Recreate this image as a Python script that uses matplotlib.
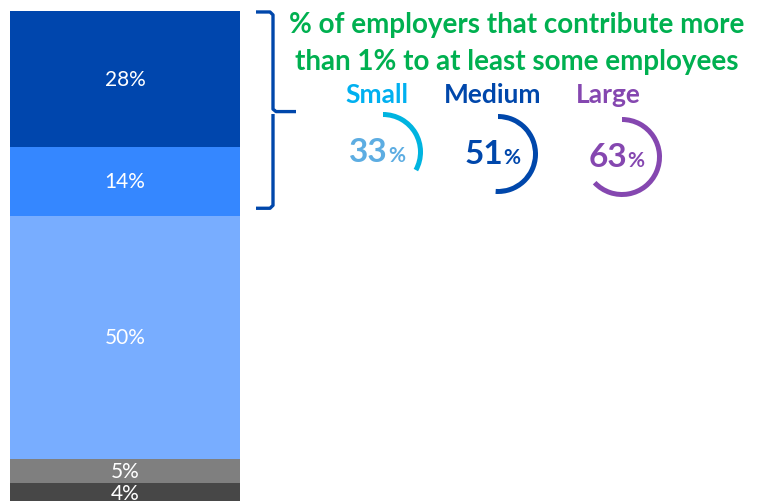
import matplotlib

matplotlib.use('Agg')
import matplotlib.pyplot as plt
import matplotlib.transforms as mtransforms
from matplotlib.patches import Wedge
import numpy as np

plt.rcParams['font.family'] = ['Lato', 'DejaVu Sans']

# stacked bar data (top to bottom)
segments = [28, 14, 50, 5, 4]
seg_labels = ['28%', '14%', '50%', '5%', '4%']
seg_colors = ['#0046AD', '#3587FF', '#78ADFF', '#7F7F7F', '#474747']

# gauges
sizes = ['Small', 'Medium', 'Large']
shares = [33, 51, 63]
label_colors = ['#00B0F0', '#0047AB', '#8547B0']
arc_colors = ['#00B4E0', '#0047AB', '#8547B0']
num_colors = ['#5DADE2', '#0047AB', '#8547B0']

title_lines = ['% of employers that contribute more',
               'than 1% to at least some employees']

W, H = 765, 502


def px_rect(x0, y0, x1, y1):
    return [x0 / W, 1 - y1 / H, (x1 - x0) / W, (y1 - y0) / H]


fig = plt.figure(figsize=(W / 100, H / 100), dpi=100)

# stacked bar
ax = fig.add_axes(px_rect(10, 12, 240, 502))
bottoms = np.cumsum([0] + segments[:-1])
ax.bar(0, segments, bottom=bottoms, width=1, color=seg_colors, linewidth=0)
for b, s, lab in zip(bottoms, segments, seg_labels):
    ax.text(0, b + s / 2, lab, ha='center', va='center', color='white',
            fontsize=15, clip_on=False)
ax.set_xlim(-0.5, 0.5)
ax.set_ylim(100.6, 0)
ax.axis('off')

# overlay in pixel coords
ov = fig.add_axes([0, 0, 1, 1])
ov.set_xlim(0, W)
ov.set_ylim(H, 0)
ov.axis('off')

# bracket over the first two segments
tr = mtransforms.blended_transform_factory(ov.transData, ax.transData)
y0 = 0.2
y1 = segments[0] + segments[1] - 1.5
ym = (y0 + y1) / 2 + 0.3
bx = [256, 270, 273, 273, 276, 296]
by = [y0, y0, y0 + 0.6, ym - 0.5, ym, ym]
ov.plot(bx, by, color='#0047AB', lw=2.4, transform=tr,
        solid_joinstyle='round', solid_capstyle='butt')
ov.plot([273, 273, 270, 256], [ym + 0.5, y1 - 0.6, y1, y1], color='#0047AB',
        lw=2.4, transform=tr, solid_joinstyle='round', solid_capstyle='butt')

# title
ov.text(517, 25, title_lines[0], ha='center', va='center', color='#00B050',
        fontsize=20, fontweight='bold')
ov.text(517, 62, title_lines[1], ha='center', va='center', color='#00B050',
        fontsize=20, fontweight='bold')

# gauges
centers = [(383, 153), (498, 155), (622, 158)]
label_x = [377, 493, 608]
for (cx, cy), lx, name, v, lc, ac, nc in zip(centers, label_x, sizes, shares,
                                               label_colors, arc_colors, num_colors):
    ov.text(lx, 95, name, ha='center', va='center', color=lc,
            fontsize=19, fontweight='bold')
    ov.add_patch(Wedge((cx, cy), 40, -90, -90 + 360 * v / 100, width=5,
                       color=ac, linewidth=0))
    ov.text(cx + 5, cy + 9, str(v), ha='right', va='baseline', color=nc,
            fontsize=24, fontweight='bold')
    ov.text(cx + 5, cy + 9, '%', ha='left', va='baseline', color=nc,
            fontsize=15, fontweight='bold')

fig.savefig('out.png', dpi=100)
